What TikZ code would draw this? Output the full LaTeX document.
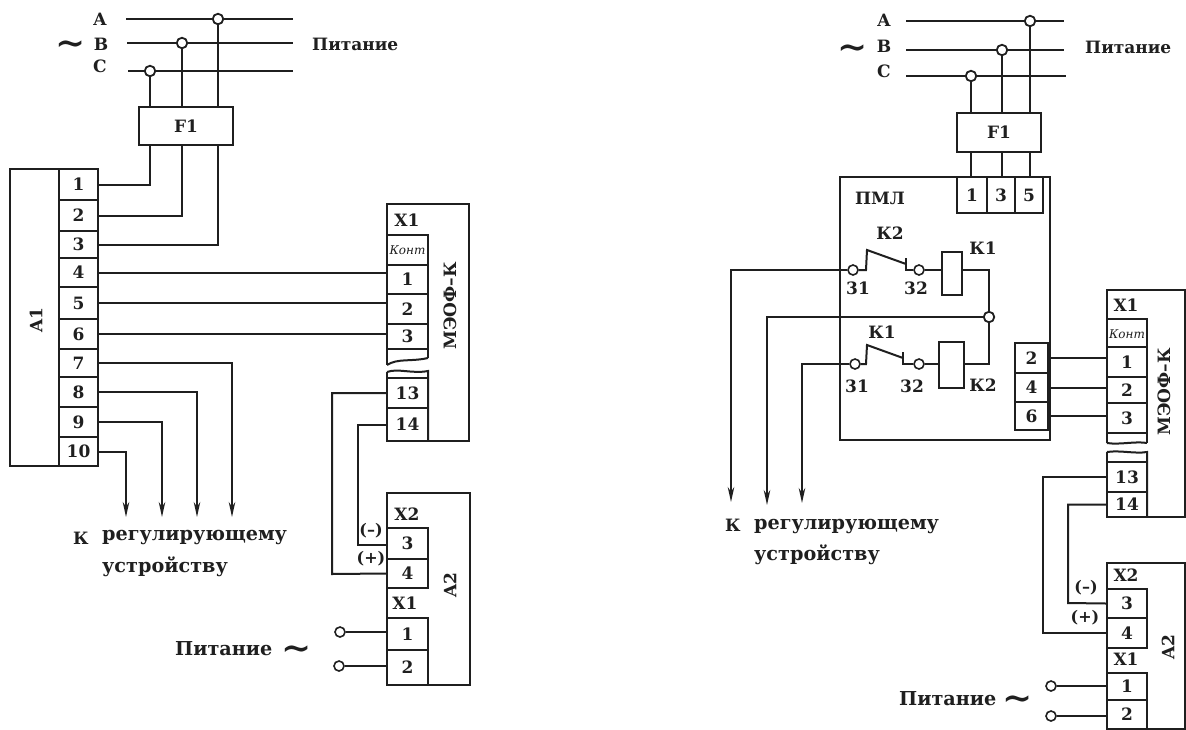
\documentclass[tikz,border=0pt]{standalone}
\usepackage{fontspec}
\setmainfont{DejaVu Serif}
\usetikzlibrary{arrows.meta}
\definecolor{ink}{gray}{0.12}
\newcommand{\tld}{∼}
\tikzset{
  wire/.style={draw=ink,line width=2pt},
  feed/.style={wire,-{Stealth[length=15pt,width=6.5pt]}},
  box/.style={draw=ink,line width=2pt,inner sep=0pt,rectangle,text=ink,font=\bfseries\fontsize{17}{17}\selectfont},
  tbl/.style={text=ink,font=\bfseries\fontsize{17}{17}\selectfont,inner sep=0pt},
  biglab/.style={tbl,font=\bfseries\fontsize{19.2}{19.2}\selectfont},
  vlab/.style={tbl,rotate=90},
  small/.style={tbl,font=\bfseries\fontsize{16}{16}\selectfont},
  tiny/.style={tbl,font=\itshape\fontsize{12}{12}\selectfont},
  tildetxt/.style={tbl,font=\bfseries\fontsize{36}{36}\selectfont},
  jn/.style={circle,draw=ink,line width=1.8pt,fill=white,minimum size=10.5pt,inner sep=0pt},
  cn/.style={circle,draw=ink,line width=1.6pt,fill=white,minimum size=10pt,inner sep=0pt},
  fine/.style={wire,line width=1.5pt},
}
\begin{document}
\begin{tikzpicture}[x=1pt,y=-1pt]
\useasboundingbox (0,0) rectangle (1186,729);
\fill[white] (0,0) rectangle (1186,729);
% ---------- LEFT ----------
\node[tbl] (lA) at (100,19) {A};
\node[tbl] (lB) at (101,44) {B};
\node[tbl] (lC) at (100,66) {C};
\node[tildetxt] (lt) at (71,48) {\tld};
\node[tbl,anchor=west] (lP) at (312,44) {Питание};
\coordinate (lAe) at (293,19); \coordinate (lBe) at (293,43); \coordinate (lCe) at (293,71);
\coordinate (lAs) at (126,19); \coordinate (lBs) at (127,43); \coordinate (lCs) at (128,71);
\draw[wire] (lAs)--(lAe); \draw[wire] (lBs)--(lBe); \draw[wire] (lCs)--(lCe);
\node[box,minimum width=94pt,minimum height=38pt] (lF) at (186,126) {F1};
\node[jn] (ljA) at (218,19) {};
\node[jn] (ljB) at (182,43) {};
\node[jn] (ljC) at (150,71) {};
\draw[wire] (ljA)--(ljA|-lF.north); \draw[wire] (ljB)--(ljB|-lF.north); \draw[wire] (ljC)--(ljC|-lF.north);
% A1
\node[box,minimum width=49pt,minimum height=297pt] (A1) at (34.5,317.5) {};
\node[vlab] (lA1t) at (36,320) {A1};
\foreach \n/\t/\b in {1/169/200,2/200/231,3/231/258,4/258/287,5/287/319,6/319/349,7/349/377,8/377/407,9/407/437,10/437/466}{
  \node[box,minimum width=39pt,minimum height={(\b-\t)*1pt}] (at\n) at (78.5,{(\t+\b)/2}) {\n};
}
\draw[wire] (at1.east) -| (ljC|-lF.south);
\draw[wire] (at2.east) -| (ljB|-lF.south);
\draw[wire] (at3.east) -| (ljA|-lF.south);
% MEOF left
\coordinate (lmw) at (387,365);\coordinate (lme) at (428,358);
\coordinate (lmw2) at (387,372);\coordinate (lme2) at (428,371);
\draw[wire] (lmw)--(387,204)--(469,204)--(469,441)--(387,441)--(lmw2);
\node[tbl] (lmx) at (407,220) {X1};
\draw[wire] (387,235)--(428,235)--(lme);
\draw[wire] (lmw) .. controls (398,358) and (410,362) .. (lme);
\draw[wire] (lmw2) .. controls (398,368) and (412,374) .. (lme2)--(428,441);
\foreach \n/\t/\b/\l in {k/235/265/{},1/265/294/1,2/294/324/2,3/324/349/3,13/378/408/13,14/408/441/14}{
  \node[box,minimum width=41pt,minimum height={(\b-\t)*1pt}] (lm\n) at (407.5,{(\t+\b)/2}) {\l};
}
\node[tiny] (lmkt) at (407.5,250) {Конт};
\node[vlab] (lmt) at (450,306) {МЭОФ–К};
\draw[wire] (at4.east)--(at4.east-|lm1.west);
\draw[wire] (at5.east)--(at5.east-|lm2.west);
\draw[wire] (at6.east)--(at6.east-|lm3.west);
\coordinate (lk1) at (232,517);\coordinate (lk2) at (197,517);\coordinate (lk3) at (162,517);\coordinate (lk4) at (126,517);
\draw[feed] (at7.east) -| (lk1);
\draw[feed] (at8.east) -| (lk2);
\draw[feed] (at9.east) -| (lk3);
\draw[feed] (at10.east) -| (lk4);
\node[tbl,anchor=west] (lreg0) at (73,538) {К};
\node[biglab,anchor=west] (lreg1) at (102,538) {регулирующему};
\node[biglab,anchor=west] (lreg2) at (102,567) {устройству};
% A2 left
\node[box,minimum width=83pt,minimum height=192pt] (lA2) at (428.5,589) {};
\node[tbl] (la2x2) at (407,514) {X2};
\node[tbl] (la2x1) at (405,603) {X1};
\node[vlab] (la2t) at (450,585) {A2};
\foreach \n/\t/\b in {3/528/559,4/559/588,1/618/650,2/650/685}{
  \node[box,minimum width=41pt,minimum height={(\b-\t)*1pt}] (la\n) at (407.5,{(\t+\b)/2}) {\n};
}
\coordinate (lb13) at (332,574); \coordinate (lb14) at (358,545);
\draw[wire] (lm13.west) -| (lb13) -- (la4.west);
\draw[wire] (lm14.west) -| (lb14) -- (lb14-|la3.west);
\node[small] (lminus) at (371,531) {(–)};
\node[small] (lplus) at (371,559) {(+)};
\node[cn] (lc1) at (340,632) {};
\node[cn] (lc2) at (339,666) {};
\draw[fine] (lc1)--(lc1-|la1.west);
\draw[fine] (lc2)--(lc2-|la2.west);
\node[biglab,anchor=west] (lpit) at (175,649) {Питание};
\node[tildetxt] (lpt) at (297,653) {\tld};
% ---------- RIGHT ----------
\node[tbl] (rA) at (884,20) {A};
\node[tbl] (rB) at (884,46) {B};
\node[tbl] (rC) at (884,71) {C};
\node[tildetxt] (rt) at (853,52) {\tld};
\node[tbl,anchor=west] (rP) at (1085,47) {Питание};
\coordinate (rAs) at (906,21);\coordinate (rBs) at (906,50);\coordinate (rCs) at (906,76);
\coordinate (rAe) at (1064,21);\coordinate (rBe) at (1064,50);\coordinate (rCe) at (1066,76);
\draw[wire] (rAs)--(rAe); \draw[wire] (rBs)--(rBe); \draw[wire] (rCs)--(rCe);
\node[box,minimum width=84pt,minimum height=39pt] (rF) at (999,132.5) {F1};
\node[jn] (rjA) at (1030,21) {};
\node[jn] (rjB) at (1002,50) {};
\node[jn] (rjC) at (971,76) {};
\draw[wire] (rjA)--(rjA|-rF.north); \draw[wire] (rjB)--(rjB|-rF.north); \draw[wire] (rjC)--(rjC|-rF.north);
% PML
\node[box,minimum width=210pt,minimum height=263pt] (pml) at (945,308.5) {};
\node[tbl] (pmlt) at (880,198) {ПМЛ};
\foreach \n/\a/\b in {1/957/987,3/987/1015,5/1015/1043}{
  \node[box,minimum width={(\b-\a)*1pt},minimum height=36pt] (pt\n) at ({(\a+\b)/2},195) {\n};
}
\draw[wire] (rjC|-rF.south)--(rjC|-pt1.north);
\draw[wire] (rjB|-rF.south)--(rjB|-pt3.north);
\draw[wire] (rjA|-rF.south)--(rjA|-pt5.north);
\foreach \n/\t/\b in {2/343/373,4/373/402,6/402/430}{
  \node[box,minimum width=33pt,minimum height={(\b-\t)*1pt}] (po\n) at (1031.5,{(\t+\b)/2}) {\n};
}
% K2 contact + K1 coil
\node[cn] (c31a) at (853,270) {};
\node[cn] (c32a) at (919,270) {};
\node[tbl] (l31a) at (858,288) {31};
\node[tbl] (l32a) at (916,288) {32};
\node[tbl] (lk2a) at (890,233) {К2};
\node[box,minimum width=20pt,minimum height=43pt] (coil1) at (952,273.5) {};
\node[tbl] (lk1a) at (983,248) {К1};
\draw[wire] (c31a)--(866,270)--(867,250)--(906,264);
\draw[wire] (906,258)--(906,270)--(c32a);
\draw[wire] (c32a)--(c32a-|coil1.west);
% K1 contact + K2 coil
\node[cn] (c31b) at (855,364) {};
\node[cn] (c32b) at (919,364) {};
\node[tbl] (l31b) at (857,386) {31};
\node[tbl] (l32b) at (912,386) {32};
\node[tbl] (lk1b) at (882,332) {К1};
\node[box,minimum width=25pt,minimum height=46pt] (coil2) at (951,365) {};
\node[tbl] (lk2b) at (983,385) {К2};
\draw[wire] (c31b)--(866,364)--(867,345)--(903,358);
\draw[wire] (903,352)--(903,364)--(c32b);
\draw[wire] (c32b)--(c32b-|coil2.west);
% common junction
\node[jn] (jc) at (989,317) {};
\draw[wire] (coil1.east|-c32a) -| (jc);
\draw[wire] (coil2.east|-c32b) -| (jc);
\coordinate (ra1) at (731,502);\coordinate (ra2) at (767,505);\coordinate (ra3) at (802,503);
\draw[feed] (c31a) -| (ra1);
\draw[feed] (jc) -| (ra2);
\draw[feed] (c31b) -| (ra3);
\node[tbl,anchor=west] (rreg0) at (725,525) {К};
\node[biglab,anchor=west] (rreg1) at (754,527) {регулирующему};
\node[biglab,anchor=west] (rreg2) at (754,555) {устройству};
% MEOF right
\coordinate (rmw) at (1107,443);\coordinate (rme) at (1147,443);
\coordinate (rmw2) at (1107,452);\coordinate (rme2) at (1147,452);
\draw[wire] (rmw)--(1107,290)--(1185,290)--(1185,517)--(1107,517)--(rmw2);
\node[tbl] (rmx) at (1126,305) {X1};
\draw[wire] (1107,319)--(1147,319)--(rme);
\draw[wire] (rmw) .. controls (1120,445) and (1135,441) .. (rme);
\draw[wire] (rmw2) .. controls (1120,450) and (1135,454) .. (rme2)--(1147,517);
\foreach \n/\t/\b/\l in {k/319/347/{},1/347/377/1,2/377/403/2,3/403/433/3,13/462/492/13,14/492/517/14}{
  \node[box,minimum width=40pt,minimum height={(\b-\t)*1pt}] (rm\n) at (1127,{(\t+\b)/2}) {\l};
}
\node[tiny] (rmkt) at (1127,334) {Конт};
\node[vlab] (rmt) at (1164,392) {МЭОФ–К};
\draw[wire] (po2.east)--(po2.east-|rm1.west);
\draw[wire] (po4.east)--(po4.east-|rm2.west);
\draw[wire] (po6.east)--(po6.east-|rm3.west);
% A2 right
\node[box,minimum width=78pt,minimum height=166pt] (rA2) at (1146,646) {};
\node[tbl] (ra2x2) at (1126,575) {X2};
\node[tbl] (ra2x1) at (1126,659) {X1};
\node[vlab] (ra2t) at (1168,647) {A2};
\foreach \n/\t/\b in {3/589/618,4/618/648,1/673/700,2/700/729}{
  \node[box,minimum width=40pt,minimum height={(\b-\t)*1pt}] (ra\n) at (1127,{(\t+\b)/2}) {\n};
}
\coordinate (rb13) at (1043,633); \coordinate (rb14) at (1068,603);
\draw[wire] (rm13.west) -| (rb13) -- (ra4.west);
\draw[wire] (rm14.west) -| (rb14) -- (ra3.west);
\node[small] (rminus) at (1086,588) {(–)};
\node[small] (rplus) at (1085,618) {(+)};
\node[cn] (rc1) at (1051,686) {};
\node[cn] (rc2) at (1051,716) {};
\draw[fine] (rc1)--(rc1-|ra1.west);
\draw[fine] (rc2)--(rc2-|ra2.west);
\node[biglab,anchor=west] (rpit) at (899,699) {Питание};
\node[tildetxt] (rpt) at (1018,703) {\tld};
\end{tikzpicture}
\end{document}
